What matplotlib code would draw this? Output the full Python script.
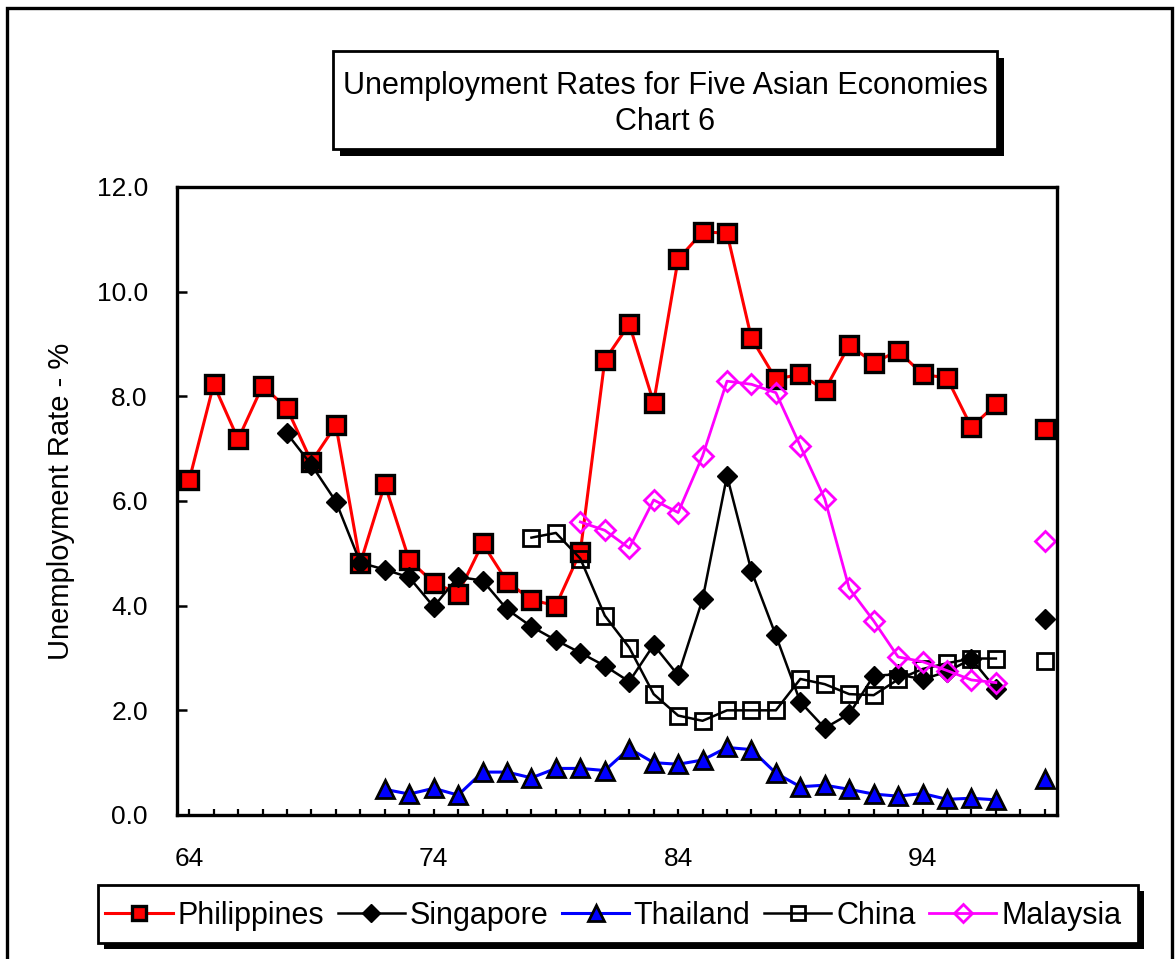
import numpy as np
import matplotlib
matplotlib.use("Agg")
import matplotlib.pyplot as plt
from matplotlib.patches import Rectangle

plt.rcParams["font.family"] = ["Liberation Sans", "DejaVu Sans"]

W, H = 1175, 959
NAN = np.nan

years = np.arange(64, 100)

# unemployment rates (%), one value per year 64..99, nan = no data
philippines = [6.40, 8.23, 7.18, 8.20, 7.77, 6.75, 7.45, 4.81, 6.32, 4.87,
               4.44, 4.23, 5.19, 4.46, 4.11, 4.00, 5.03, 8.69, 9.38, 7.88,
               10.62, 11.14, 11.12, 9.11, 8.33, 8.42, 8.12, 8.98, 8.64, 8.87,
               8.42, 8.35, 7.41, 7.85, NAN, 7.37]
singapore = [NAN, NAN, NAN, NAN, 7.29, 6.69, 5.99, 4.82, 4.69, 4.54,
             3.98, 4.55, 4.48, 3.93, 3.60, 3.34, 3.10, 2.85, 2.55, 3.25,
             2.67, 4.12, 6.48, 4.66, 3.43, 2.16, 1.66, 1.93, 2.66, 2.69,
             2.59, 2.74, 2.98, 2.41, NAN, 3.74]
thailand = [NAN, NAN, NAN, NAN, NAN, NAN, NAN, NAN, 0.49, 0.40,
            0.51, 0.38, 0.82, 0.82, 0.71, 0.89, 0.89, 0.85, 1.27, 1.00,
            0.97, 1.05, 1.29, 1.25, 0.80, 0.54, 0.57, 0.49, 0.40, 0.36,
            0.41, 0.30, 0.32, 0.29, NAN, 0.68]
china = [NAN, NAN, NAN, NAN, NAN, NAN, NAN, NAN, NAN, NAN,
         NAN, NAN, NAN, NAN, 5.30, 5.39, 4.90, 3.81, 3.20, 2.31,
         1.90, 1.80, 2.00, 2.00, 2.00, 2.60, 2.50, 2.31, 2.29, 2.59,
         2.79, 2.90, 2.99, 2.99, NAN, 2.94]
malaysia = [NAN, NAN, NAN, NAN, NAN, NAN, NAN, NAN, NAN, NAN,
            NAN, NAN, NAN, NAN, NAN, NAN, 5.60, 5.44, 5.10, 6.02,
            5.78, 6.86, 8.29, 8.23, 8.07, 7.05, 6.04, 4.33, 3.71, 3.02,
            2.93, 2.76, 2.58, 2.53, NAN, 5.24]

xtick_labels = ["64", "74", "84", "94"]


def fig_box(x0, y0, x1, y1):
    """pixel box (top-left origin) -> figure fraction (x, y, w, h)"""
    return x0 / W, 1 - y1 / H, (x1 - x0) / W, (y1 - y0) / H


def shadow_box(fig, px, off=7, lw=2.0):
    x, y, w, h = fig_box(*px)
    fig.patches.append(Rectangle((x + off / W, y - off / H), w, h, transform=fig.transFigure,
                                 facecolor="black", edgecolor="black", lw=0, zorder=1))
    fig.patches.append(Rectangle((x, y), w, h, transform=fig.transFigure,
                                 facecolor="white", edgecolor="black", lw=lw, zorder=2))
    return x, y, w, h


fig = plt.figure(figsize=(W / 100, H / 100), dpi=100)
ax = fig.add_axes(fig_box(177, 187, 1057, 815))

# outer frame (bottom edge runs off the page)
fig.patches.append(Rectangle((7 / W, -0.05), (1172 - 7) / W, 1.05 - 8 / H,
                             transform=fig.transFigure, fill=False,
                             edgecolor="black", lw=2.4, zorder=0))

series = [
    ("Philippines", philippines, dict(color="red", lw=2.2, marker="s", ms=12.5,
                                      mfc="red", mec="black", mew=2.4)),
    ("Singapore", singapore, dict(color="black", lw=1.8, marker="D", ms=10.5,
                                  mfc="black", mec="black", mew=1)),
    ("Thailand", thailand, dict(color="blue", lw=2.2, marker="^", ms=13,
                                mfc="blue", mec="black", mew=2)),
    ("China", china, dict(color="black", lw=1.8, marker="s", ms=12,
                          mfc="none", mec="black", mew=2)),
    ("Malaysia", malaysia, dict(color="magenta", lw=2.0, marker="D", ms=10.5,
                                mfc="none", mec="magenta", mew=2)),
]
handles = []
for name, vals, kw in series:
    h, = ax.plot(years, vals, label=name, **kw)
    handles.append(h)

ax.set_xlim(63.5, 99.5)
ax.set_ylim(0, 12)
ax.set_xticks([int(t) for t in xtick_labels])
ax.set_xticklabels(xtick_labels)
ax.set_xticks(years, minor=True)
ax.set_yticks(np.arange(0, 12.1, 2))
ax.set_yticklabels([f"{v:.1f}" for v in np.arange(0, 12.1, 2)])
ax.tick_params(axis="x", which="both", direction="in", length=4.5, width=1.6,
               labelsize=19, pad=23)
ax.tick_params(axis="y", direction="in", length=7, width=1.8, labelsize=19, pad=21)
for s in ax.spines.values():
    s.set_linewidth(2.4)
ax.set_ylabel("Unemployment Rate - %", fontsize=21)
ax.yaxis.set_label_coords(-0.116, 0.5)

# title box with drop shadow
x, y, w, h = shadow_box(fig, (333, 51, 997, 149))
fig.text(x + w / 2, 1 - 86 / H, "Unemployment Rates for Five Asian Economies",
         ha="center", va="center", fontsize=22, zorder=3)
fig.text(x + w / 2, 1 - 122 / H, "Chart 6", ha="center", va="center",
         fontsize=22, zorder=3)

# legend box with drop shadow
x, y, w, h = shadow_box(fig, (98, 885, 1138, 943), off=6)
leg = fig.legend(handles=handles, loc="center", bbox_to_anchor=(x + w / 2 - 0.004, y + h / 2 - 0.002),
                 ncol=5, frameon=False, fontsize=22, handlelength=2.2, markerscale=0.85,
                 handletextpad=0.15, columnspacing=0.45, borderaxespad=0)
leg.set_zorder(4)

fig.savefig("out.png", dpi=100)
